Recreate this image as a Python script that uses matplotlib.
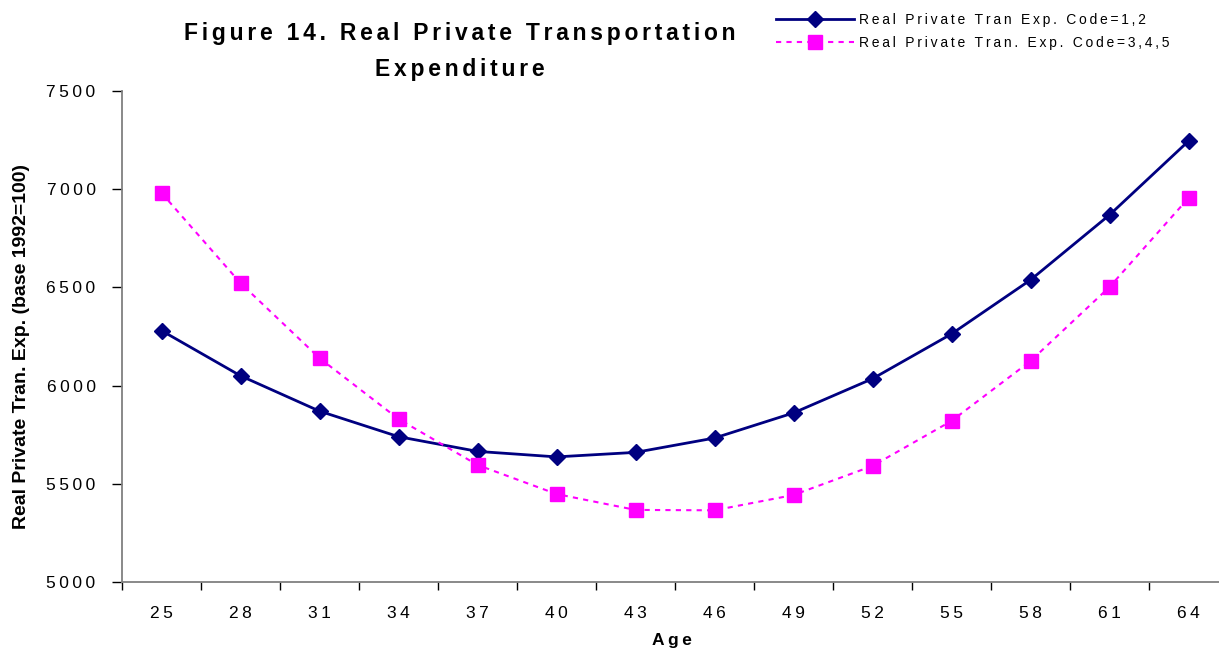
import matplotlib
matplotlib.use("Agg")
import matplotlib.pyplot as plt
import numpy as np

plt.rcParams['font.family'] = ['Liberation Sans', 'DejaVu Sans']

ages = [25, 28, 31, 34, 37, 40, 43, 46, 49, 52, 55, 58, 61, 64]
exp_code_12 = [6280, 6050, 5870, 5740, 5665, 5637, 5660, 5733, 5861, 6035, 6263, 6538, 6869, 7245]
exp_code_345 = [6981, 6522, 6140, 5830, 5596, 5448, 5367, 5365, 5443, 5591, 5820, 6125, 6502, 6955]
y_ticks = [5000, 5500, 6000, 6500, 7000, 7500]

label_12 = "Real Private Tran Exp. Code=1,2"
label_345 = "Real Private Tran. Exp. Code=3,4,5"

HAIR = '\u200a'
THIN = '\u2009'


def track(s, sep=THIN):
    # wide letter spacing, the way the old spreadsheet export draws it
    return sep.join(s)


navy = '#000080'
magenta = '#FF00FF'
spine = '#808080'

fig = plt.figure(figsize=(12.19, 6.49), dpi=100)
ax = fig.add_axes([122 / 1219, 1 - 582 / 649, (1228 - 122) / 1219, (582 - 91) / 649])

x = np.arange(len(ages))
l1, = ax.plot(x, exp_code_12, color=navy, lw=2.0, marker='D', ms=8.5,
              mfc=navy, mec=navy, label=track(label_12))
l2, = ax.plot(x, exp_code_345, color=magenta, lw=1.5, ls=(0, (2.5, 2.5)), marker='s', ms=10,
              mfc=magenta, mec=magenta, label=track(label_345))

ax.set_xlim(-0.5, len(ages) - 0.5)
ax.set_ylim(5000, 7500)
ax.set_yticks(y_ticks)
ax.set_yticklabels([track(str(v)) for v in y_ticks], fontsize=12.5)

# category boundaries carry the tick marks, the centres carry the labels
ax.set_xticks(np.arange(len(ages) + 1) - 0.5)
ax.set_xticklabels([])
ax.set_xticks(x, minor=True)
ax.set_xticklabels([track(str(a)) for a in ages], minor=True, fontsize=12.5)
ax.tick_params(axis='x', which='major', length=6, color='black', width=1)
ax.tick_params(axis='x', which='minor', length=0, pad=17)
ax.tick_params(axis='y', length=7, color='black', width=1, pad=12)

for side in ('top', 'right'):
    ax.spines[side].set_visible(False)
for side in ('left', 'bottom'):
    ax.spines[side].set_color(spine)
    ax.spines[side].set_linewidth(1.3)

ax.set_ylabel("Real Private Tran. Exp. (base 1992=100)", fontsize=14, fontweight='bold')
ax.yaxis.set_label_coords(-92 / 1106, 0.479)

fig.text(672 / 1219, 1 - 640 / 649, track("Age"), fontsize=12.5, fontweight='bold',
         ha='center', va='center')

fig.text(460 / 1219, 1 - 40 / 649, track("Figure 14. Real Private Transportation", HAIR * 2),
         fontsize=16.5, fontweight='bold', ha='center', va='baseline')
fig.text(460 / 1219, 1 - 76 / 649, track("Expenditure", HAIR * 2),
         fontsize=16.5, fontweight='bold', ha='center', va='baseline')

fig.legend(handles=[l1, l2], loc='upper left', bbox_to_anchor=(776 / 1219, 1 - 13 / 649),
           frameon=False, fontsize=10, handlelength=5.6, handletextpad=0.35,
           labelspacing=0.65, borderaxespad=0, borderpad=0)

fig.savefig("out.png", dpi=100)
